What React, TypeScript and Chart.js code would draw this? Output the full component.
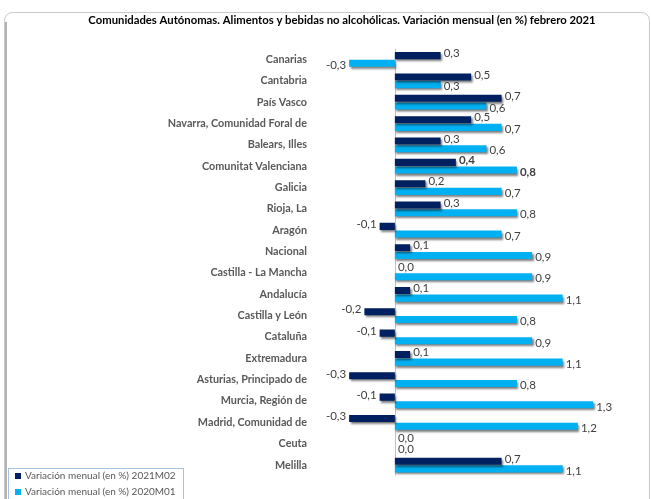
import { useEffect, useRef } from 'react';
import { Chart, registerables } from 'chart.js';

Chart.register(...registerables);

const chartTitle =
  'Comunidades Autónomas. Alimentos y bebidas no alcohólicas. Variación mensual (en %) febrero 2021';

const categories = [
  'Canarias',
  'Cantabria',
  'País Vasco',
  'Navarra, Comunidad Foral de',
  'Balears, Illes',
  'Comunitat Valenciana',
  'Galicia',
  'Rioja, La',
  'Aragón',
  'Nacional',
  'Castilla - La Mancha',
  'Andalucía',
  'Castilla y León',
  'Cataluña',
  'Extremadura',
  'Asturias, Principado de',
  'Murcia, Región de',
  'Madrid, Comunidad de',
  'Ceuta',
  'Melilla',
];

const series2021M02 = [0.3, 0.5, 0.7, 0.5, 0.3, 0.4, 0.2, 0.3, -0.1, 0.1, 0.0, 0.1, -0.2, -0.1, 0.1, -0.3, -0.1, -0.3, 0.0, 0.7];
const series2020M01 = [-0.3, 0.3, 0.6, 0.7, 0.6, 0.8, 0.7, 0.8, 0.7, 0.9, 0.9, 1.1, 0.8, 0.9, 1.1, 0.8, 1.3, 1.2, 0.0, 1.1];

const seriesNames = ['Variación menual (en %) 2021M02', 'Variación menual (en %) 2020M01'];
const seriesColors = ['#002060', '#00B0F0'];
const boldCategories = ['Comunitat Valenciana'];

const FONT = 'Lato, "Open Sans", "DejaVu Sans", sans-serif';

function fmt(v: number): string {
  return v.toFixed(1).replace('.', ',');
}

const decorPlugin = {
  id: 'decor',
  beforeDraw(chart: any) {
    const ctx = chart.ctx as CanvasRenderingContext2D;
    ctx.save();
    ctx.fillStyle = '#ffffff';
    ctx.fillRect(0, 0, chart.width, chart.height);
    // frame
    const x0 = 4.5, y0 = 12.5, x1 = 649.5, y1 = 530, r = 9;
    ctx.beginPath();
    ctx.moveTo(x0 + r, y0);
    ctx.lineTo(x1 - r, y0);
    ctx.quadraticCurveTo(x1, y0, x1, y0 + r);
    ctx.lineTo(x1, y1);
    ctx.lineTo(x0, y1);
    ctx.lineTo(x0, y0 + r);
    ctx.quadraticCurveTo(x0, y0, x0 + r, y0);
    ctx.strokeStyle = '#c8c8c8';
    ctx.lineWidth = 1;
    ctx.stroke();
    ctx.beginPath();
    ctx.moveTo(6, 22);
    ctx.lineTo(6, 499);
    ctx.strokeStyle = '#9a9a9a';
    ctx.lineWidth = 1.5;
    ctx.stroke();
    // title
    ctx.fillStyle = '#000000';
    ctx.font = `bold 11.3px ${FONT}`;
    ctx.textAlign = 'center';
    ctx.textBaseline = 'middle';
    ctx.fillText(chartTitle, 342, 20);
    ctx.restore();
  },
  beforeDatasetsDraw(chart: any) {
    const ctx = chart.ctx as CanvasRenderingContext2D;
    const xs = chart.scales.x;
    const area = chart.chartArea;
    const zx = Math.round(xs.getPixelForValue(0)) + 0.5;
    ctx.save();
    ctx.beginPath();
    ctx.moveTo(zx, area.top);
    ctx.lineTo(zx, area.bottom);
    ctx.strokeStyle = '#c0c0c0';
    ctx.lineWidth = 1;
    ctx.stroke();
    ctx.restore();
    ctx.save();
    ctx.shadowColor = 'rgba(0,0,0,0.5)';
    ctx.shadowOffsetX = 1.5;
    ctx.shadowOffsetY = 2;
    ctx.shadowBlur = 2;
  },
  afterDatasetsDraw(chart: any) {
    const ctx = chart.ctx as CanvasRenderingContext2D;
    ctx.restore();
    ctx.save();
    chart.data.datasets.forEach((ds: any, di: number) => {
      const meta = chart.getDatasetMeta(di);
      meta.data.forEach((el: any, i: number) => {
        const v = ds.data[i] as number;
        const bold = boldCategories.includes(categories[i]);
        ctx.font = `${bold ? 'bold ' : ''}11.5px ${FONT}`;
        ctx.fillStyle = '#404040';
        ctx.textBaseline = 'middle';
        const dy = di === 0 ? -2 : 2;
        if (v < 0) {
          ctx.textAlign = 'right';
          ctx.fillText(fmt(v), el.x - 3, el.y + dy);
        } else {
          ctx.textAlign = 'left';
          ctx.fillText(fmt(v), el.x + 3, el.y + dy);
        }
      });
    });
    ctx.restore();
  },
  afterDraw(chart: any) {
    const ctx = chart.ctx as CanvasRenderingContext2D;
    ctx.save();
    ctx.fillStyle = '#ffffff';
    ctx.fillRect(8.5, 468.5, 175, 40);
    ctx.strokeStyle = '#a9c4e4';
    ctx.lineWidth = 1;
    ctx.strokeRect(8.5, 468.5, 175, 40);
    ctx.font = `10px ${FONT}`;
    ctx.textAlign = 'left';
    ctx.textBaseline = 'middle';
    seriesNames.forEach((name, i) => {
      const cy = 476 + i * 16;
      ctx.fillStyle = seriesColors[i];
      ctx.fillRect(15, cy - 3, 6, 6);
      ctx.fillStyle = '#595959';
      ctx.fillText(name, 25, cy);
    });
    ctx.restore();
  },
};

export default function App() {
  const ref = useRef<HTMLCanvasElement | null>(null);

  useEffect(() => {
    if (!ref.current) return;
    const chart = new Chart(ref.current, {
      type: 'bar',
      data: {
        labels: categories,
        datasets: [
          {
            label: seriesNames[0],
            data: series2021M02,
            backgroundColor: seriesColors[0],
            borderWidth: 0,
            categoryPercentage: 0.72,
            barPercentage: 0.92,
          },
          {
            label: seriesNames[1],
            data: series2020M01,
            backgroundColor: seriesColors[1],
            borderWidth: 0,
            categoryPercentage: 0.72,
            barPercentage: 0.92,
          },
        ],
      },
      options: {
        indexAxis: 'y',
        responsive: false,
        animation: false,
        layout: { padding: { left: 0, right: 35, top: 48.8, bottom: 23.3 } },
        plugins: {
          legend: { display: false },
          tooltip: { enabled: false },
          title: { display: false },
        },
        scales: {
          x: { display: false, min: -0.55, max: 1.45 },
          y: {
            type: 'category',
            afterFit: (s: any) => {
              s.width = 311;
            },
            grid: { display: false, drawTicks: false },
            border: { display: false },
            ticks: {
              autoSkip: false,
              padding: 4,
              color: '#595959',
              font: { family: FONT, size: 10.8, weight: 'bold' },
            },
          },
        },
      },
      plugins: [decorPlugin],
    } as any);
    return () => chart.destroy();
  }, []);

  return (
    <div style={{ position: 'absolute', left: 0, top: 0, width: 651, height: 499 }}>
      <canvas ref={ref} width={651} height={499} style={{ width: 651, height: 499 }} />
    </div>
  );
}
